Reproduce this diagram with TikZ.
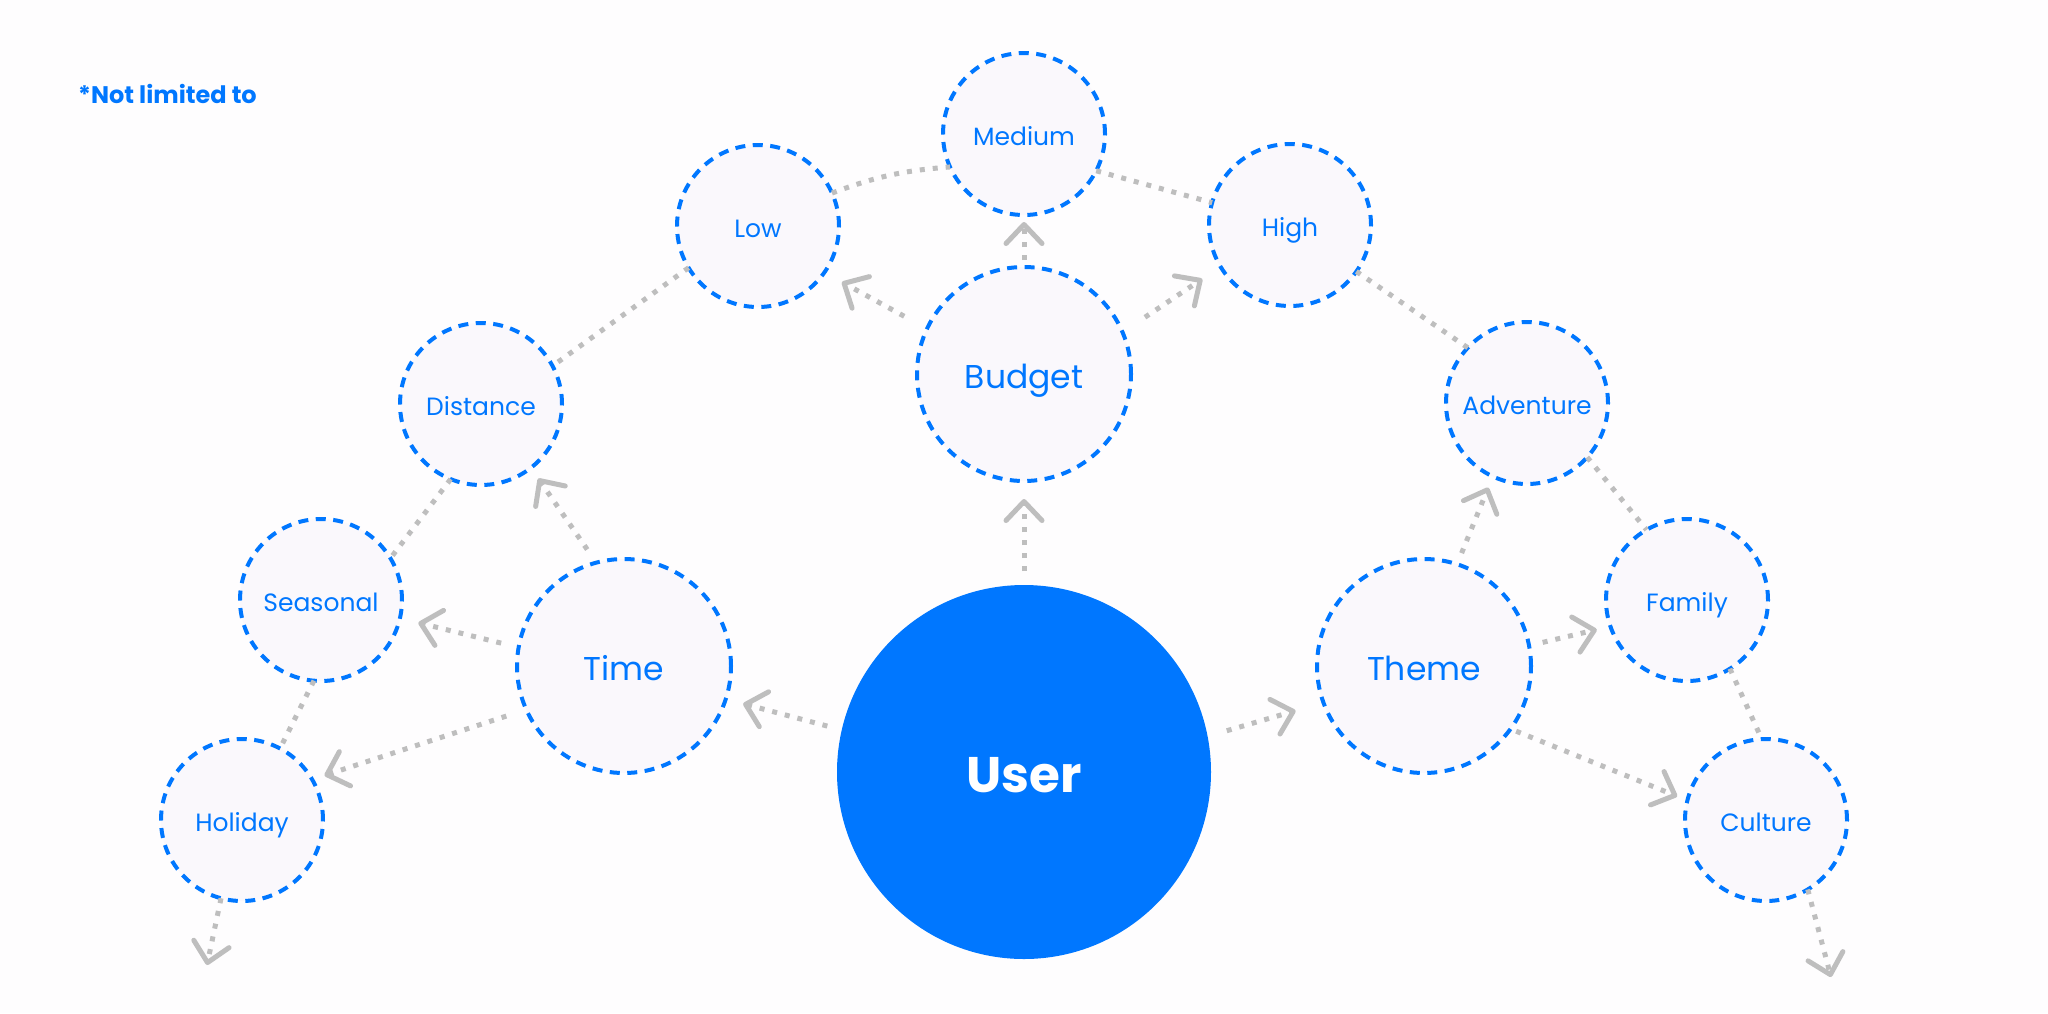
\documentclass[tikz,border=0pt]{standalone}
\usepackage{fontspec}
\setmainfont{Poppins}
\usetikzlibrary{arrows.meta}
\definecolor{ublue}{RGB}{0,119,255}
\definecolor{nfill}{RGB}{250,248,252}
\definecolor{lgray}{RGB}{190,190,190}
\definecolor{bgc}{RGB}{254,253,254}
\tikzset{
  subnode/.style={circle, draw=ublue, fill=nfill, line width=4pt, dash pattern=on 10pt off 7.5pt,
    minimum size=162pt, inner sep=0pt, outer sep=0pt, text=ublue,
    font=\fontsize{25}{25}\selectfont, text height=23pt, text depth=0pt},
  midnode/.style={subnode, minimum size=214pt, font=\fontsize{33}{33}\selectfont, text height=29pt},
  usrnode/.style={circle, fill=ublue, minimum size=374pt, inner sep=0pt, outer sep=0pt, text=white,
    font=\fontsize{50}{50}\selectfont\bfseries, text height=41pt, text depth=0pt},
  link/.style={draw=lgray, line width=5pt, dash pattern=on 5pt off 8pt},
  arr/.style={link, -{Straight Barb[length=19pt, width=36pt, line width=5pt, round]}}
}
\begin{document}
\begin{tikzpicture}[x=1pt, y=-1pt]
\useasboundingbox (0,0) rectangle (2048,1013);
\fill[bgc] (0,0) rectangle (2048,1013);

\node[anchor=base west, text=ublue, font=\fontsize{24}{24}\selectfont\bfseries, inner sep=0pt] (note) at (78,103) {*Not limited to};

% nodes
\node[usrnode] (user) at (1024,772) {User};
\node[midnode] (budget) at (1024,374) {Budget};
\node[midnode] (time) at (624,666) {Time};
\node[midnode] (theme) at (1424,666) {Theme};
\node[subnode] (medium) at (1024,134) {Medium};
\node[subnode] (low) at (758,226) {Low};
\node[subnode] (high) at (1290,225) {High};
\node[subnode] (distance) at (481,404) {Distance};
\node[subnode] (adventure) at (1527,403) {Adventure};
\node[subnode] (seasonal) at (321,600) {Seasonal};
\node[subnode] (family) at (1687,600) {Family};
\node[subnode] (holiday) at (242,820) {Holiday};
\node[subnode] (culture) at (1766,820) {Culture};
\coordinate (holend) at (207,965);
\coordinate (culend) at (1831,977);

% plain links
\draw[link] (low.-149) -- (distance.28);
\draw[link] (low.24) to[bend left=8] (medium.204);
\draw[link] (medium.-27) -- (high.164);
\draw[link] (high.-35.5) -- (adventure.137);
\draw[link] (adventure.-42) -- (family.120);
\draw[link] (family.-58) -- (culture.93);
\draw[link] (distance.-112) -- (seasonal.31);
\draw[link] (seasonal.-95) -- (holiday.62.5);

% arrows
\draw[arr, shorten <=15pt, shorten >=18pt] (user.167) -- (time.-18);
\draw[arr, shorten <=14pt, shorten >=18pt] (user.90) -- (budget.-90);
\draw[arr, shorten <=20pt, shorten >=29pt] (user.11) -- (theme.200);
\draw[arr, shorten <=26pt, shorten >=20pt] (budget.155.6) -- (low.-35.7);
\draw[arr, shorten <=7pt, shorten >=7pt] (budget.90) -- (medium.-90);
\draw[arr, shorten <=27pt, shorten >=22pt] (budget.23.7) -- (high.211.4);
\draw[arr, shorten <=16pt, shorten >=13pt] (time.105.9) -- (distance.-52.8);
\draw[arr, shorten <=18pt, shorten >=19pt] (time.170.4) -- (seasonal.-13.5);
\draw[arr, shorten <=21pt, shorten >=13pt] (time.204.8) -- (holiday.30.6);
\draw[arr, shorten <=12pt, shorten >=12pt] (theme.72.5) -- (adventure.245.6);
\draw[arr, shorten <=14pt, shorten >=14pt] (theme.11.9) -- (family.199.6);
\draw[arr, shorten <=6pt, shorten >=11pt] (theme.-36.4) -- (culture.166.1);
\draw[arr] (holiday.-105) -- (holend);
\draw[arr] (culture.-59) -- (culend);
\end{tikzpicture}
\end{document}
